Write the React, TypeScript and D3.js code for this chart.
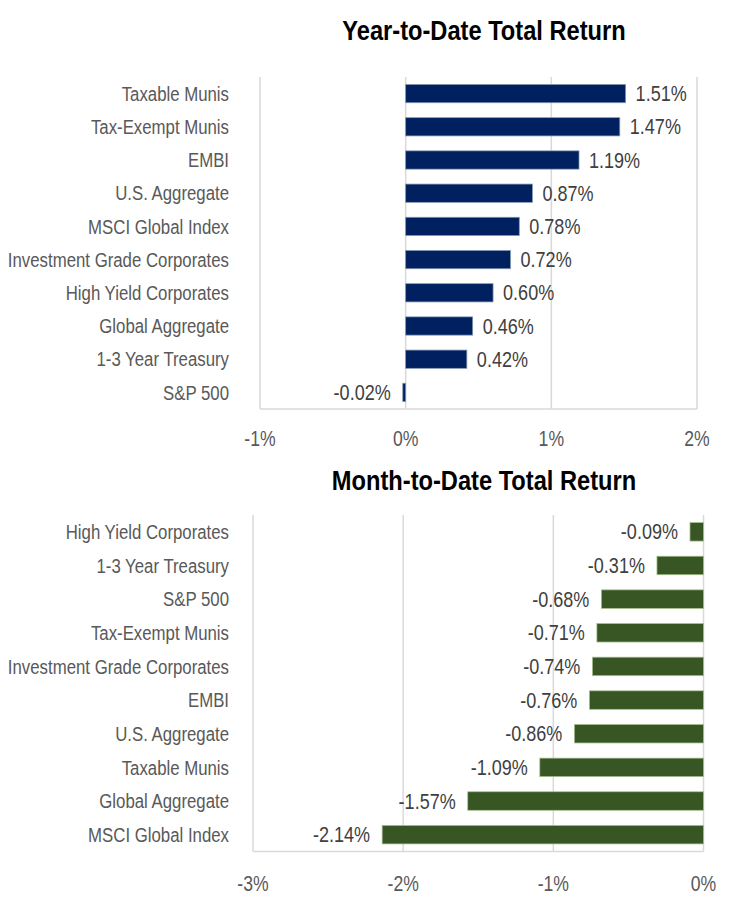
import React from "react";
import * as d3 from "d3";

// Year-to-date returns (%)
const ytdCategories = [
  "Taxable Munis",
  "Tax-Exempt Munis",
  "EMBI",
  "U.S. Aggregate",
  "MSCI Global Index",
  "Investment Grade Corporates",
  "High Yield Corporates",
  "Global Aggregate",
  "1-3 Year Treasury",
  "S&P 500",
];
const ytdValues = [1.51, 1.47, 1.19, 0.87, 0.78, 0.72, 0.6, 0.46, 0.42, -0.02];
const ytdTicks = [-1, 0, 1, 2];

// Month-to-date returns (%)
const mtdCategories = [
  "High Yield Corporates",
  "1-3 Year Treasury",
  "S&P 500",
  "Tax-Exempt Munis",
  "Investment Grade Corporates",
  "EMBI",
  "U.S. Aggregate",
  "Taxable Munis",
  "Global Aggregate",
  "MSCI Global Index",
];
const mtdValues = [-0.09, -0.31, -0.68, -0.71, -0.74, -0.76, -0.86, -1.09, -1.57, -2.14];
const mtdTicks = [-3, -2, -1, 0];

const FONT = "'Liberation Sans', Arial, sans-serif";
const NARROW = 0.8; // horizontal squeeze for a condensed look

type CTextProps = {
  x: number;
  y: number;
  anchor: "start" | "middle" | "end";
  size: number;
  fill: string;
  bold?: boolean;
  squeeze?: number;
  children: React.ReactNode;
};

function CText({ x, y, anchor, size, fill, bold, squeeze = NARROW, children }: CTextProps) {
  return (
    <text
      transform={`translate(${x},${y}) scale(${squeeze},1)`}
      textAnchor={anchor}
      dominantBaseline="central"
      fontFamily={FONT}
      fontWeight={bold ? "bold" : "normal"}
      fontSize={size}
      fill={fill}
    >
      {children}
    </text>
  );
}

type PanelProps = {
  title: string;
  categories: string[];
  values: number[];
  ticks: number[];
  color: string;
  edge: string;
  x0: number;
  x1: number;
  y0: number;
  y1: number;
  titleY: number;
  tickY: number;
};

function Panel(p: PanelProps) {
  const x = d3
    .scaleLinear()
    .domain([p.ticks[0], p.ticks[p.ticks.length - 1]])
    .range([p.x0, p.x1]);
  const y = d3
    .scaleBand<string>()
    .domain(p.categories)
    .range([p.y0, p.y1])
    .paddingInner(0.45)
    .paddingOuter(0.225);
  const fmt = (v: number) => `${v.toFixed(2)}%`;

  return (
    <g>
      <CText x={484} y={p.titleY} anchor="middle" size={28} fill="#000000" bold squeeze={0.845}>
        {p.title}
      </CText>
      {p.ticks.map((t) => (
        <line
          key={`g${t}`}
          x1={x(t)}
          x2={x(t)}
          y1={p.y0}
          y2={p.y1}
          stroke="#d9d9d9"
          strokeWidth={1.5}
        />
      ))}
      <line x1={p.x0} x2={p.x1} y1={p.y1} y2={p.y1} stroke="#d9d9d9" strokeWidth={1.5} />
      {p.categories.map((c, i) => {
        const v = p.values[i];
        const yy = y(c)!;
        const cy = yy + y.bandwidth() / 2;
        const bx = Math.min(x(0), x(v));
        const bw = Math.abs(x(v) - x(0));
        return (
          <g key={c}>
            <rect
              x={bx}
              y={yy}
              width={Math.max(bw, 1.5)}
              height={y.bandwidth()}
              fill={p.color}
              stroke={p.edge}
              strokeWidth={0.75}
            />
            <CText
              x={v >= 0 ? x(v) + 10 : x(v) - 12}
              y={cy}
              anchor={v >= 0 ? "start" : "end"}
              size={22}
              fill="#404040"
              squeeze={0.82}
            >
              {fmt(v)}
            </CText>
            <CText x={229} y={cy} anchor="end" size={21} fill="#595959">
              {c}
            </CText>
          </g>
        );
      })}
      {p.ticks.map((t) => (
        <CText key={`t${t}`} x={x(t)} y={p.tickY} anchor="middle" size={22} fill="#595959">
          {`${t}%`}
        </CText>
      ))}
    </g>
  );
}

export default function App() {
  return (
    <svg
      width={734}
      height={905}
      viewBox="0 0 734 905"
      style={{ position: "absolute", left: 0, top: 0, background: "#ffffff" }}
    >
      <rect x={0} y={0} width={734} height={905} fill="#ffffff" />
      <Panel
        title="Year-to-Date Total Return"
        categories={ytdCategories}
        values={ytdValues}
        ticks={ytdTicks}
        color="#002060"
        edge="#8497b0"
        x0={260}
        x1={697}
        y0={77}
        y1={409}
        titleY={30}
        tickY={438}
      />
      <Panel
        title="Month-to-Date Total Return"
        categories={mtdCategories}
        values={mtdValues}
        ticks={mtdTicks}
        color="#375623"
        edge="#a9c08f"
        x0={253}
        x1={703.5}
        y0={515}
        y1={851.5}
        titleY={480}
        tickY={883}
      />
    </svg>
  );
}
